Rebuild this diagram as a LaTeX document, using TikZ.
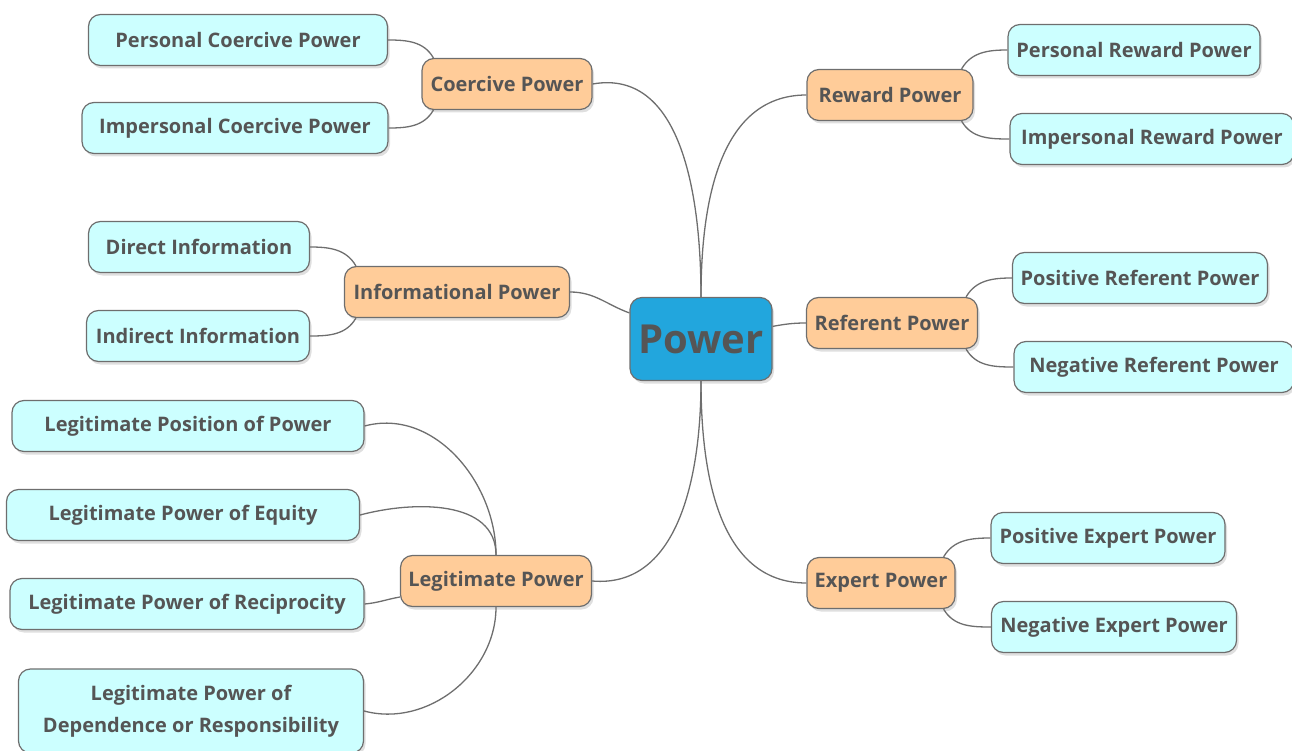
\documentclass[tikz,border=0pt]{standalone}
\usepackage{fontspec}
\setmainfont{Open Sans}
\usepackage{tikz}
\usetikzlibrary{shadows}
\definecolor{lineg}{HTML}{6E6E6E}
\definecolor{textg}{HTML}{555555}
\definecolor{leafc}{HTML}{CCFFFF}
\definecolor{mainc}{HTML}{FFCC99}
\definecolor{rootc}{HTML}{22A6DD}

\begin{document}
\begin{tikzpicture}[x=1pt,y=-1pt]
			\tikzstyle{every node}+=[inner sep=0pt,text=textg,font=\bfseries\fontsize{20}{32}\selectfont]
			\tikzstyle{box}=[draw=lineg,line width=1.2pt,rounded corners=12pt,minimum height=51pt,drop shadow={shadow xshift=2pt,shadow yshift=-3pt,opacity=0.25}]
			\tikzstyle{leaf}=[box,fill=leafc]
			\tikzstyle{topic}=[box,fill=mainc]
			\tikzstyle{link}=[draw=lineg,line width=1.3pt]
			\useasboundingbox (0,0) rectangle (1292,751);
			\node [box,fill=rootc,minimum width=142,minimum height=83,font=\bfseries\fontsize{40}{48}\selectfont] (power) at (701,339) {Power};
			\node [topic,minimum width=170] (coer) at (507,84) {Coercive Power};
			\node [leaf,minimum width=299] (pcoer) at (238,40) {Personal Coercive Power};
			\node [leaf,minimum width=306] (icoer) at (235,128) {Impersonal Coercive Power};
			\node [topic,minimum width=225] (info) at (457,292) {Informational Power};
			\node [leaf,minimum width=221] (dinfo) at (199,247) {Direct Information};
			\node [leaf,minimum width=223] (iinfo) at (198,336) {Indirect Information};
			\node [topic,minimum width=191] (legit) at (496,581) {Legitimate Power};
			\node [leaf,minimum width=352] (lpos) at (188,426) {Legitimate Position of Power};
			\node [leaf,minimum width=353] (lequ) at (183,515) {Legitimate Power of Equity};
			\node [leaf,minimum width=354] (lrec) at (187,604) {Legitimate Power of Reciprocity};
			\node [leaf,minimum width=345,minimum height=84,align=center] (ldep) at (191,711) {Legitimate Power of\\Dependence or Responsibility};
			\node [topic,minimum width=166] (rew) at (890,95) {Reward Power};
			\node [leaf,minimum width=252] (prew) at (1134,50) {Personal Reward Power};
			\node [leaf,minimum width=284] (irew) at (1152,139) {Impersonal Reward Power};
			\node [topic,minimum width=171] (ref) at (892,323) {Referent Power};
			\node [leaf,minimum width=255] (pref) at (1140,278) {Positive Referent Power};
			\node [leaf,minimum width=280] (nref) at (1154,367) {Negative Referent Power};
			\node [topic,minimum width=148] (exp) at (881,583) {Expert Power};
			\node [leaf,minimum width=234] (pexp) at (1108,538) {Positive Expert Power};
			\node [leaf,minimum width=245] (nexp) at (1114,627) {Negative Expert Power};
			\draw [link] (power.north) to[out=90,in=10] (coer.east);
			\draw [link] (power.north) to[out=90,in=180] (rew.west);
			\draw [link] (power.160) to[out=160,in=0] (info.east);
			\draw [link] (power.10) to[out=10,in=180] (ref.west);
			\draw [link] (power.south) to[out=-90,in=-5] (legit.east);
			\draw [link] (power.south) to[out=-90,in=180] (exp.west);
			\draw [link] ([xshift=12]coer.north west) to[out=120,in=0] (pcoer.east);
			\draw [link] ([xshift=12]coer.south west) to[out=-120,in=0] (icoer.east);
			\draw [link] ([xshift=12]info.north west) to[out=120,in=0] (dinfo.east);
			\draw [link] ([xshift=12]info.south west) to[out=-120,in=0] (iinfo.east);
			\draw [link] (legit.north) to[out=90,in=15] (lpos.east);
			\draw [link] (legit.north) to[out=90,in=15] (lequ.east);
			\draw [link] ([yshift=-16]legit.west) to[out=190,in=5] (lrec.east);
			\draw [link] (legit.south) to[out=-90,in=-15] (ldep.east);
			\draw [link] ([xshift=-12]rew.north east) to[out=60,in=180] (prew.west);
			\draw [link] ([xshift=-12]rew.south east) to[out=-60,in=180] (irew.west);
			\draw [link] ([xshift=-12]ref.north east) to[out=60,in=180] (pref.west);
			\draw [link] ([xshift=-12]ref.south east) to[out=-60,in=180] (nref.west);
			\draw [link] ([xshift=-12]exp.north east) to[out=60,in=180] (pexp.west);
			\draw [link] ([xshift=-12]exp.south east) to[out=-60,in=180] (nexp.west);
\end{tikzpicture}
\end{document}
